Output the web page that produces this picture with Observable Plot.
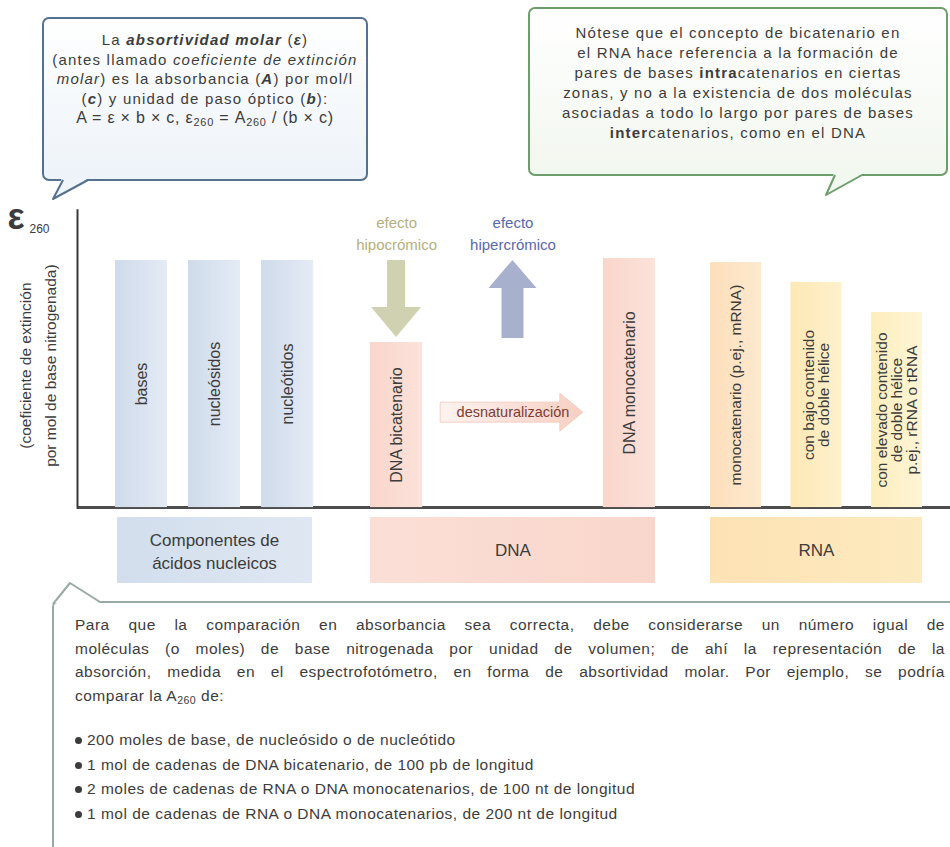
<!DOCTYPE html>
<html lang="es">
<head>
<meta charset="utf-8">
<script src="https://cdn.jsdelivr.net/npm/d3@7"></script>
<script src="https://cdn.jsdelivr.net/npm/@observablehq/plot@0.6"></script>
<style>
html,body{margin:0;padding:0;background:#fff;}
#root{position:relative;width:950px;height:847px;overflow:hidden;font-family:"Liberation Sans",Arial,sans-serif;color:#3c3c3c;}
#root svg.capa{position:absolute;left:0;top:0;}
.globo{position:absolute;box-sizing:border-box;text-align:center;font-size:15px;letter-spacing:1.2px;white-space:nowrap;}
#g1{left:42px;top:17px;width:326px;height:164px;border:2px solid #55718f;border-radius:7px;background:linear-gradient(#ffffff,#edf3f9);padding-top:11px;line-height:19.5px;}
#g1 .formula{font-size:16px;letter-spacing:0.8px;}
#g2{left:528px;top:7px;width:420px;height:169px;border:2px solid #6b9e6b;border-radius:7px;background:linear-gradient(#ffffff,#f2f7ef);padding-top:14px;line-height:20px;}
#g3{position:absolute;left:52px;top:601px;width:915px;height:260px;box-sizing:border-box;border-top:2px solid #98aaa3;border-left:2px solid #98aaa3;border-top-left-radius:6px;background:#fff;padding:10px 0 0 21px;font-size:15.5px;letter-spacing:0.5px;}
#g3 .parrafo{line-height:23.5px;}
#g3 .linea{width:870px;text-align:justify;text-align-last:justify;}
#g3 ul{list-style:none;margin:21px 0 0 0;padding:0;line-height:24.5px;}
#g3 li{position:relative;padding-left:12px;}
#g3 li::before{content:"";position:absolute;left:0;top:9px;width:7px;height:7px;border-radius:50%;background:#3c3c3c;}
sub{font-size:0.68em;line-height:0;vertical-align:-0.3em;}
#colas{position:absolute;left:0;top:0;pointer-events:none;}
</style>
</head>
<body>
<div id="root">
  <div id="g1" class="globo">
    <div>La <b><i>absortividad molar</i></b> (<b><i>ε</i></b>)</div>
    <div>(antes llamado <i>coeficiente de extinción</i></div>
    <div><i>molar</i>) es la absorbancia (<b><i>A</i></b>) por mol/l</div>
    <div>(<b><i>c</i></b>) y unidad de paso óptico (<b><i>b</i></b>):</div>
    <div class="formula">A = ε × b × c, ε<sub>260</sub> = A<sub>260</sub> / (b × c)</div>
  </div>
  <div id="g2" class="globo">
    <div>Nótese que el concepto de bicatenario en</div>
    <div>el RNA hace referencia a la formación de</div>
    <div>pares de bases <b>intra</b>catenarios en ciertas</div>
    <div>zonas, y no a la existencia de dos moléculas</div>
    <div>asociadas a todo lo largo por pares de bases</div>
    <div><b>inter</b>catenarios, como en el DNA</div>
  </div>
  <div id="g3">
    <div class="parrafo">
      <div class="linea">Para que la comparación en absorbancia sea correcta, debe considerarse un número igual de</div>
      <div class="linea">moléculas (o moles) de base nitrogenada por unidad de volumen; de ahí la representación de la</div>
      <div class="linea">absorción, medida en el espectrofotómetro, en forma de absortividad molar. Por ejemplo, se podría</div>
      <div>comparar la A<sub>260</sub> de:</div>
    </div>
    <ul>
      <li>200 moles de base, de nucleósido o de nucleótido</li>
      <li>1 mol de cadenas de DNA bicatenario, de 100 pb de longitud</li>
      <li>2 moles de cadenas de RNA o DNA monocatenarios, de 100 nt de longitud</li>
      <li>1 mol de cadenas de RNA o DNA monocatenarios, de 200 nt de longitud</li>
    </ul>
  </div>
  <svg id="colas" width="950" height="847">
    <polygon points="62,178 89,178 53,199" fill="#eef4f9"/>
    <polyline points="63,180 53,199 88,180" fill="none" stroke="#55718f" stroke-width="2" stroke-linejoin="round"/>
    <polygon points="834,173 864,173 826,195" fill="#f2f7ef"/>
    <polyline points="835,175 826,195 862,175" fill="none" stroke="#6b9e6b" stroke-width="2" stroke-linejoin="round"/>
    <polygon points="54,603 70,584 100,603" fill="#ffffff"/>
    <polyline points="53,604 70,583 100,602" fill="none" stroke="#98aaa3" stroke-width="2" stroke-linejoin="round"/>
  </svg>
</div>
<script>
// ---------- DATOS ----------
const componentes = ["bases", "nucleósidos", "nucleótidos"];
const componentesE260 = [84.6, 84.6, 84.6];
const dnaFormas = ["DNA bicatenario", "DNA monocatenario"];
const dnaE260 = [56.5, 85.3];
const rnaFormas = ["monocatenario (p.ej., mRNA)", "con bajo contenido\nde doble hélice", "con elevado contenido\nde doble hélice\np.ej., rRNA o tRNA"];
const rnaE260 = [83.9, 77.1, 66.8];
const grupos = ["Componentes de\nácidos nucleicos", "DNA", "RNA"];
const efectos = ["efecto\nhipocrómico", "efecto\nhipercrómico"];
const transicion = "desnaturalización";
const ejeY = "(coeficiente de extinción\npor mol de base nitrogenada)";
const simboloY = "ε";
const subindiceY = "260";

// ---------- DISEÑO ----------
const FUENTE = '"Liberation Sans", Arial, sans-serif';
const estilo = {background: "transparent", fontFamily: FUENTE, fontSize: "15px", color: "#3c3c3c", overflow: "visible"};
const ANCHO = 950, ALTO = 600, MSUP = 215, MINF = 17;
const dominioY = [-26, 100];
const bandaGrupo = [-3.4, -26];
const medioGrupo = (bandaGrupo[0] + bandaGrupo[1]) / 2;
const nivelTransicion = 32.5;
const nivelEjeY = 48.6;
const sobreEtiqueta = 9;

function degradados(lista) {
  return () => {
    const defs = d3.create("svg:defs");
    for (const [id, colores, vertical] of lista) {
      const g = defs.append("linearGradient").attr("id", id)
        .attr("x1", 0).attr("y1", 0).attr("x2", vertical ? 0 : 1).attr("y2", vertical ? 1 : 0);
      colores.forEach((c, i) => g.append("stop").attr("offset", i / (colores.length - 1)).attr("stop-color", c));
    }
    return defs.node();
  };
}

function bw(x) { return typeof x.bandwidth === "function" ? x.bandwidth() : 0; }

function flechaVertical(cat, desde, hasta, color, gapDesde, gapHasta, sw, hw, hl) {
  return (index, scales) => {
    const {x, y} = scales;
    const cx = x(cat) + bw(x) / 2;
    const y0 = y(desde), y1 = y(hasta);
    const dir = y1 > y0 ? 1 : -1;
    const a = y0 + dir * gapDesde, b = y1 - dir * gapHasta;
    const yh = b - dir * hl;
    return d3.create("svg:path").attr("fill", color)
      .attr("d", `M${cx - sw},${a}H${cx + sw}V${yh}H${cx + hw}L${cx},${b}L${cx - hw},${yh}H${cx - sw}Z`).node();
  };
}

function flechaHorizontal(desdeCat, hastaCat, nivel) {
  return (index, scales) => {
    const {x, y} = scales;
    const x0 = x(desdeCat) + bw(x) + 18, x1 = x(hastaCat) - 20;
    const cy = y(nivel);
    const sh = 10, hh = 19, hl = 23;
    return d3.create("svg:path").attr("fill", "url(#gFlecha)").attr("stroke", "#f0c6ba").attr("stroke-width", 0.8)
      .attr("d", `M${x0},${cy - sh}H${x1 - hl}V${cy - hh}L${x1},${cy}L${x1 - hl},${cy + hh}V${cy + sh}H${x0}Z`).node();
  };
}

function grupo(dominio, izq, der, padding, marks, extra = {}) {
  return Plot.plot({
    width: ANCHO, height: ALTO, marginLeft: izq, marginRight: ANCHO - der, marginTop: MSUP, marginBottom: MINF,
    x: {type: "band", domain: dominio, paddingInner: padding, paddingOuter: 0, round: false, axis: null},
    y: {domain: dominioY, axis: null},
    style: estilo, marks, ...extra
  });
}

const root = document.getElementById("root");
const capas = [];

// Ejes
capas.push(Plot.plot({
  width: ANCHO, height: ALTO, marginLeft: 77, marginRight: 0, marginTop: MSUP, marginBottom: MINF,
  x: {domain: [0, 1], axis: null},
  y: {domain: dominioY, axis: null},
  style: estilo,
  marks: [
    Plot.ruleY([0], {stroke: "#4d4d4d", strokeWidth: 3}),
    Plot.ruleX([0], {y1: -0.6, y2: 102, stroke: "#3a3a3a", strokeWidth: 2}),
    Plot.text([ejeY], {frameAnchor: "left", y: () => nivelEjeY, dx: -42, rotate: -90, textAnchor: "middle", fontSize: 15.5, lineHeight: 1.6}),
    Plot.text([simboloY], {frameAnchor: "top-left", dx: -70, dy: 2, fontSize: 36, fontWeight: 600, textAnchor: "start", lineAnchor: "middle"}),
    Plot.text([subindiceY], {frameAnchor: "top-left", dx: -48, dy: 14, fontSize: 12, textAnchor: "start", lineAnchor: "middle"})
  ]
}));

// Componentes
const tablaComp = componentes.map((c, i) => ({c, e: componentesE260[i]}));
capas.push(grupo(componentes, 115, 313, 0.288, [
  degradados([["gAzul", ["#cfdbeb", "#e4ebf5"]], ["gComp", ["#d2deed", "#dfe7f2"]]]),
  Plot.rect([grupos[0]], {y1: () => bandaGrupo[0], y2: () => bandaGrupo[1], fill: "url(#gComp)", insetLeft: 2, insetRight: 1}),
  Plot.text([grupos[0]], {y: () => medioGrupo, frameAnchor: "middle", fontSize: 17, lineHeight: 1.35, ariaLabel: "esp10"}),
  Plot.barY(tablaComp, {x: "c", y: "e", fill: "url(#gAzul)"}),
  Plot.text(tablaComp, {x: "c", y: d => d.e / 2, text: "c", rotate: -90, fontSize: 16})
]));

// DNA
const tablaDNA = dnaFormas.map((c, i) => ({c, e: dnaE260[i]}));
const dominioDNA = [dnaFormas[0], transicion, dnaFormas[1]];
capas.push(grupo(dominioDNA, 370, 655, 0.552, [
  degradados([["gRosa", ["#f9d6cb", "#fce2da"]], ["gDNA", ["#fbdfd6", "#f9d6cb"]], ["gFlecha", ["#fdf3ef", "#f7cfc3"]]]),
  Plot.rect([grupos[1]], {y1: () => bandaGrupo[0], y2: () => bandaGrupo[1], fill: "url(#gDNA)"}),
  Plot.text([grupos[1]], {y: () => medioGrupo, frameAnchor: "middle", fontSize: 17, ariaLabel: "esp10"}),
  Plot.barY(tablaDNA, {x: "c", y: "e", fill: "url(#gRosa)"}),
  Plot.text(tablaDNA, {x: "c", y: d => d.e / 2, text: "c", rotate: -90, fontSize: 16}),
  flechaVertical(dnaFormas[0], dnaE260[1], dnaE260[0], "#cfd1b0", 2, 5, 9, 25, 30),
  flechaVertical(transicion, dnaE260[0], dnaE260[1], "#a7b0cd", 4, 2, 11, 24, 28),
  Plot.text([efectos[0]], {x: () => dnaFormas[0], y: () => dnaE260[1] + sobreEtiqueta, fill: "#b3b07c", fontSize: 15, lineHeight: 1.45, ariaLabel: "esp13"}),
  Plot.text([efectos[1]], {x: () => transicion, y: () => dnaE260[1] + sobreEtiqueta, fill: "#5868ad", fontSize: 15, lineHeight: 1.45, ariaLabel: "esp13"}),
  flechaHorizontal(dnaFormas[0], dnaFormas[1], nivelTransicion),
  Plot.text([transicion], {x: () => transicion, y: () => nivelTransicion, fill: "#7b3d35", fontSize: 14.5, ariaLabel: "esp15"})
]));

// RNA
const tablaRNA = rnaFormas.map((c, i) => ({c, e: rnaE260[i]}));
capas.push(grupo(rnaFormas, 710, 922, 0.366, [
  degradados([["gR1", ["#fddfbb", "#fde9cf"]], ["gR2", ["#fde8b5", "#fef1cd"]], ["gR3", ["#fdeebd", "#fef5d6"]], ["gRNA", ["#fde2b4", "#fdeabf"]]]),
  Plot.rect([grupos[2]], {y1: () => bandaGrupo[0], y2: () => bandaGrupo[1], fill: "url(#gRNA)"}),
  Plot.text([grupos[2]], {y: () => medioGrupo, frameAnchor: "middle", fontSize: 17, ariaLabel: "esp10"}),
  Plot.barY(tablaRNA, {x: "c", y: "e", fill: "c"}),
  Plot.text(tablaRNA, {x: "c", y: d => d.e / 2, text: "c", rotate: -90, fontSize: 15.5, lineHeight: 0.98})
], {color: {domain: rnaFormas, range: ["url(#gR1)", "url(#gR2)", "url(#gR3)"]}}));

const colas = document.getElementById("colas");
for (const svg of capas) {
  svg.classList.add("capa");
  for (const [lab, ls] of [["esp10", 1.0], ["esp13", 1.3], ["esp15", 1.5]]) {
    svg.querySelectorAll(`g[aria-label="${lab}"]`).forEach(g => g.setAttribute("letter-spacing", ls));
  }
  root.insertBefore(svg, colas);
}
</script>
</body>
</html>
